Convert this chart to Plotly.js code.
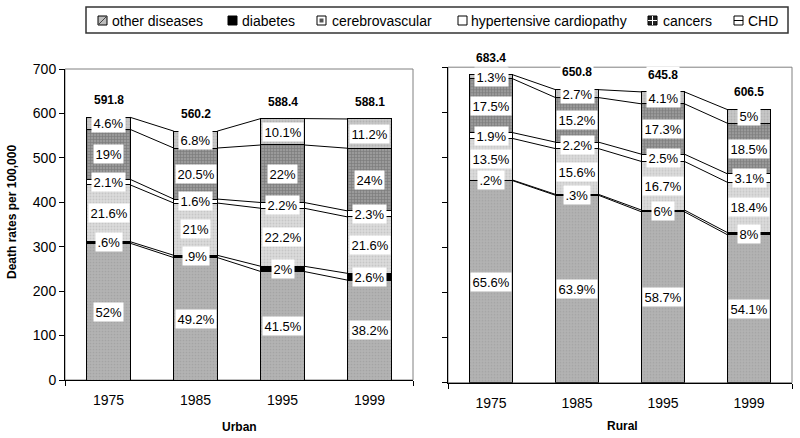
<!DOCTYPE html>
<html>
<head>
<meta charset="utf-8">
<script src="https://cdn.plot.ly/plotly-3.0.1.min.js"></script>
<style>html,body{margin:0;padding:0;background:#fff;}#chart{width:800px;height:438px;}</style>
</head>
<body>
<div id="chart"></div>
<script>
// ---------------- DATA ----------------
const years = ['1975', '1985', '1995', '1999'];
const seriesNames = ['other diseases', 'diabetes', 'cerebrovascular', 'hypertensive cardiopathy', 'cancers', 'CHD'];

const urbanTotal = [591.8, 560.2, 588.4, 588.1];
const ruralTotal = [683.4, 650.8, 645.8, 606.5];

// percentage shares (bottom to top)
const urbanOther = [52, 49.2, 41.5, 38.2];
const urbanDiabetes = [0.6, 0.9, 2, 2.6];
const urbanCerebro = [21.6, 21, 22.2, 21.6];
const urbanHypert = [2.1, 1.6, 2.2, 2.3];
const urbanCancers = [19, 20.5, 22, 24];
const urbanCHD = [4.6, 6.8, 10.1, 11.2];

const ruralOther = [65.6, 63.9, 58.7, 54.1];
const ruralDiabetes = [0.2, 0.3, 0.6, 0.8];
const ruralCerebro = [13.5, 15.6, 16.7, 18.4];
const ruralHypert = [1.9, 2.2, 2.5, 3.1];
const ruralCancers = [17.5, 15.2, 17.3, 18.5];
const ruralCHD = [1.3, 2.7, 4.1, 5];

// label text as printed on the chart
const ruralDiabetesText = ['.2%', '.3%', '6%', '8%'];

// ---------------- STYLE ----------------
const FONT = 'Liberation Sans, Arial, sans-serif';
const segStyles = [
  {color: '#b1b1b1', pattern: {shape: '.', bgcolor: '#b3b3b3', fgcolor: '#a4a4a4', size: 3, solidity: 0.25}},
  {color: '#000000'},
  {color: '#dadada', pattern: {shape: '.', bgcolor: '#dcdcdc', fgcolor: '#c6c6c6', size: 3, solidity: 0.3}},
  {color: '#ffffff'},
  {color: '#8e8e8e', pattern: {shape: '+', bgcolor: '#9a9a9a', fgcolor: '#777777', size: 3, solidity: 0.35}},
  {color: '#c6c6c6', pattern: {shape: '.', bgcolor: '#c8c8c8', fgcolor: '#b2b2b2', size: 3, solidity: 0.3}}
];

const xs = years.map((y, i) => i);
const fmt = v => (v < 1 ? String(v).replace(/^0/, '') : String(v)) + '%';

const traces = [];
const annotations = [];

function panel(totals, shares, xa, ya, textOverride) {
  const vals = shares.map(s => s.map((p, i) => totals[i] * p / 100));
  vals.forEach((v, k) => {
    const st = segStyles[k];
    const marker = {color: st.color, line: {color: '#000', width: 1}};
    if (st.pattern) marker.pattern = Object.assign({fillmode: 'replace'}, st.pattern);
    traces.push({
      type: 'bar', x: xs, y: v, xaxis: xa, yaxis: ya, name: seriesNames[k],
      marker: marker, width: 0.5, showlegend: false, hoverinfo: 'skip'
    });
  });
  const cum = [];
  let base = xs.map(() => 0);
  vals.forEach((v, k) => {
    const mids = v.map((val, i) => base[i] + val / 2);
    const top = v.map((val, i) => base[i] + val);
    cum.push(top);
    v.forEach((val, i) => {
      let txt = fmt(shares[k][i]);
      if (textOverride && textOverride[k]) txt = textOverride[k][i];
      annotations.push({
        x: xs[i], y: mids[i], xref: xa, yref: ya, text: txt, showarrow: false,
        xanchor: 'center', yanchor: 'middle',
        bgcolor: '#ffffff', borderpad: 1.5, font: {family: FONT, size: 13, color: '#000'}
      });
    });
    base = top;
  });
  cum.forEach(top => {
    const lx = [], ly = [];
    for (let i = 0; i < xs.length - 1; i++) {
      lx.push(xs[i] + 0.25, xs[i + 1] - 0.25, null);
      ly.push(top[i], top[i + 1], null);
    }
    traces.push({
      type: 'scatter', mode: 'lines', x: lx, y: ly, xaxis: xa, yaxis: ya,
      line: {color: '#000', width: 1}, showlegend: false, hoverinfo: 'skip'
    });
  });
  totals.forEach((t, i) => {
    annotations.push({
      x: xs[i], y: t, xref: xa, yref: ya, text: '<b>' + t.toFixed(1) + '</b>', showarrow: false,
      xanchor: 'center', yanchor: 'middle',
      yshift: 17, bgcolor: '#ffffff', borderpad: 1, font: {family: FONT, size: 12, color: '#000'}
    });
  });
}

panel(urbanTotal, [urbanOther, urbanDiabetes, urbanCerebro, urbanHypert, urbanCancers, urbanCHD], 'x', 'y', null);
panel(ruralTotal, [ruralOther, ruralDiabetes, ruralCerebro, ruralHypert, ruralCancers, ruralCHD], 'x2', 'y2', {1: ruralDiabetesText});

// axis titles
annotations.push({xref: 'paper', yref: 'paper', x: 12 / 800, y: 1 - 212 / 438, xanchor: 'center', yanchor: 'middle',
  text: '<b>Death rates per 100,000</b>', textangle: -90, showarrow: false, font: {family: FONT, size: 12, color: '#000'}});
annotations.push({xref: 'paper', yref: 'paper', x: 239 / 800, y: 1 - 427 / 438, xanchor: 'center', yanchor: 'middle',
  text: '<b>Urban</b>', showarrow: false, font: {family: FONT, size: 12, color: '#000'}});
annotations.push({xref: 'paper', yref: 'paper', x: 622 / 800, y: 1 - 426 / 438, xanchor: 'center', yanchor: 'middle',
  text: '<b>Rural</b>', showarrow: false, font: {family: FONT, size: 12, color: '#000'}});

// manual legend
const W = 800, H = 438;
const px = v => v / W, py = v => 1 - v / H;
const shapes = [];
shapes.push({type: 'rect', xref: 'paper', yref: 'paper', x0: px(86), x1: px(788), y0: py(33), y1: py(7),
  line: {color: '#333', width: 1.5}, fillcolor: 'rgba(0,0,0,0)'});
const legIcons = [98, 228, 317, 458, 648, 734];
const legText = [110, 240, 330, 469, 661, 746];
const iy0 = 16, iy1 = 25;
legIcons.forEach((ix, k) => {
  const fills = ['#bdbdbd', '#000', '#fff', '#fff', '#222', '#fff'];
  shapes.push({type: 'rect', xref: 'paper', yref: 'paper', x0: px(ix), x1: px(ix + 9), y0: py(iy1), y1: py(iy0),
    line: {color: '#000', width: 1}, fillcolor: fills[k]});
  annotations.push({xref: 'paper', yref: 'paper', x: px(legText[k]), y: py(20.5), xanchor: 'left', yanchor: 'middle',
    text: seriesNames[k], showarrow: false, font: {family: FONT, size: 14, color: '#000'}});
});
// icon details
shapes.push({type: 'line', xref: 'paper', yref: 'paper', x0: px(98), x1: px(107), y0: py(25), y1: py(16), line: {color: '#444', width: 1}});
shapes.push({type: 'rect', xref: 'paper', yref: 'paper', x0: px(319.5), x1: px(323.5), y0: py(22.5), y1: py(18.5), line: {width: 0}, fillcolor: '#555'});
shapes.push({type: 'line', xref: 'paper', yref: 'paper', x0: px(652.5), x1: px(652.5), y0: py(25), y1: py(16), line: {color: '#fff', width: 1}});
shapes.push({type: 'line', xref: 'paper', yref: 'paper', x0: px(648), x1: px(657), y0: py(20.5), y1: py(20.5), line: {color: '#fff', width: 1}});
shapes.push({type: 'line', xref: 'paper', yref: 'paper', x0: px(734), x1: px(743), y0: py(20.5), y1: py(20.5), line: {color: '#000', width: 1}});

// plot frames
shapes.push({type: 'rect', xref: 'x domain', yref: 'y domain', x0: 0, x1: 1, y0: 0, y1: 1, layer: 'below',
  line: {color: '#808080', width: 1}});
shapes.push({type: 'rect', xref: 'x2 domain', yref: 'y2 domain', x0: 0, x1: 1, y0: 0, y1: 1, layer: 'below',
  line: {color: '#808080', width: 1}});

const xaxisBase = {
  range: [-0.5, 3.5], tickvals: xs, ticktext: years, ticks: '', showline: true, linecolor: '#000', linewidth: 1,
  showgrid: false, zeroline: false, fixedrange: true, tickfont: {family: FONT, size: 14, color: '#000'},
  ticklabelstandoff: 7,
  minor: {ticks: 'outside', ticklen: 5, tick0: -0.5, dtick: 4, tickcolor: '#000', showgrid: false}
};
const yaxisBase = {
  range: [0, 700], dtick: 100, ticks: 'outside', ticklen: 5, tickcolor: '#000', showline: true, linecolor: '#000',
  linewidth: 1, showgrid: false, zeroline: false, fixedrange: true, tickfont: {family: FONT, size: 14, color: '#000'}
};

const layout = {
  width: 800, height: 438, margin: {l: 0, r: 0, t: 0, b: 0},
  paper_bgcolor: '#fff', plot_bgcolor: '#fff', barmode: 'stack', showlegend: false,
  font: {family: FONT, color: '#000'},
  xaxis: Object.assign({}, xaxisBase, {domain: [65 / 800, 413 / 800], anchor: 'y'}),
  xaxis2: Object.assign({}, xaxisBase, {domain: [448 / 800, 792 / 800], anchor: 'y2'}),
  yaxis: Object.assign({}, yaxisBase, {domain: [58 / 438, 369 / 438], anchor: 'x'}),
  yaxis2: Object.assign({}, yaxisBase, {domain: [55.3 / 438, 370.8 / 438], anchor: 'x2', showticklabels: false}),
  annotations: annotations,
  shapes: shapes
};

Plotly.newPlot('chart', traces, layout, {staticPlot: true, displayModeBar: false});
</script>
</body>
</html>
